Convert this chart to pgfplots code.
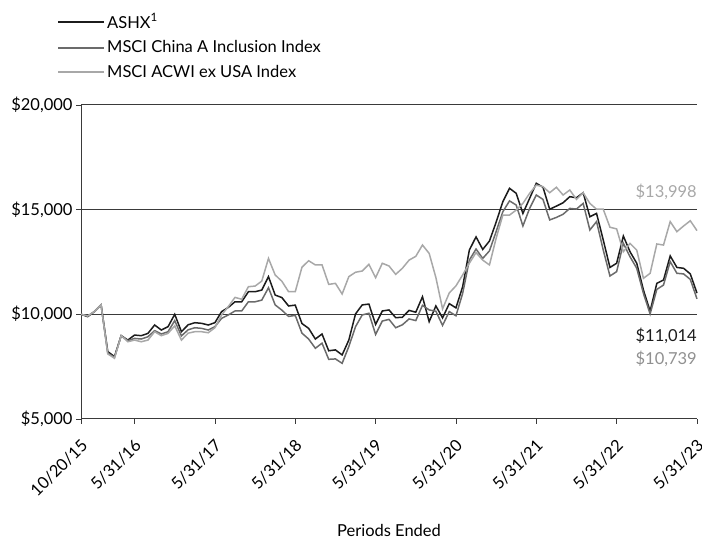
\documentclass[border=0pt]{standalone}
\usepackage{pgfplots}
\usepackage{pgfplotstable}
\pgfplotsset{compat=1.18}
\usepackage{fontspec}
\setmainfont{Lato}

\definecolor{ashx}{HTML}{1C1C1C}
\definecolor{chinaA}{HTML}{6B6B6B}
\definecolor{acwi}{HTML}{A8A8A8}
\definecolor{gridc}{HTML}{3A3A3A}

% Growth of $10,000: inception 10/20/15, then month-ends to 5/31/23
\pgfplotstableread{
i  ashx  china  acwi
0  10000 10000 10000
1  9890  9920  9920
2  10130 10130 10130
3  10450 10450 10450
4  8220  8140  8110
5  7980  7950  7900
6  8980  8980  8980
7  8770  8740  8690
8  9010  8850  8770
9  8980  8820  8690
10 9090  8930  8770
11 9490  9220  9170
12 9250  9060  8980
13 9410  9170  9090
14 10000 9700  9450
15 9170  8970  8770
16 9500  9260  9100
17 9600  9360  9170
18 9570  9330  9170
19 9490  9250  9120
20 9600  9410  9360
21 10130 9810  9970
22 10330 9970  10370
23 10600 10160 10810
24 10600 10160 10720
25 11080 10600 11320
26 11080 10600 11350
27 11160 10680 11590
28 11800 11270 12670
29 10920 10450 11880
30 10800 10200 11580
31 10400 9900  11080
32 10440 9950  11080
33 9560  9100  12250
34 9330  8820  12560
35 8820  8380  12360
36 9060  8620  12360
37 8260  7850  11430
38 8300  7870  11480
39 8060  7660  10970
40 8770  8460  11800
41 10020 9410  12010
42 10450 9970  12070
43 10490 10050 12390
44 9520  9040  11750
45 10160 9680  12440
46 10210 9760  12310
47 9840  9360  11910
48 9860  9500  12200
49 10190 9780  12590
50 10100 9700  12770
51 10840 10430 13310
52 9650  10210 12910
53 10400 10150 11760
54 9830  9470  10260
55 10510 10130 11020
56 10310 9930  11360
57 11320 11000 11880
58 13070 12590 12440
59 13700 13120 12950
60 13100 12670 12590
61 13500 13030 12360
62 14400 13950 13630
63 15380 14900 14740
64 16020 15420 14740
65 15780 15220 14980
66 14820 14220 15300
67 15540 15060 15780
68 16260 15700 16170
69 16070 15490 16100
70 15020 14510 15810
71 15170 14630 16070
72 15330 14780 15700
73 15620 15060 15940
74 15570 15030 15490
75 15810 15300 15810
76 14660 14030 15300
77 14820 14430 15020
78 13550 13070 15020
79 12240 11830 14160
80 12440 12040 14080
81 13740 13390 12990
82 12990 12750 13390
83 12440 12200 13070
84 11160 11000 11720
85 10150 10020 11960
86 11480 11190 13360
87 11640 11400 13310
88 12790 12520 14430
89 12240 11960 13950
90 12200 11930 14220
91 11930 11670 14470
92 11014 10739 13998
}\growth

\newcommand{\lbl}{\fontsize{16.5}{19}\selectfont}

\begin{document}
\begin{tikzpicture}
\path[use as bounding box] (0pt,0pt) rectangle (702pt,540pt);
\begin{axis}[
  at={(81pt,121pt)}, anchor=south west,
  scale only axis, width=616pt, height=314pt,
  xmin=0, xmax=92, ymin=5000, ymax=20000,
  scaled y ticks=false,
  axis x line*=bottom, axis y line*=left,
  axis line style={gridc, line width=1pt, -},
  xtick={0,8,20,32,44,56,68,80,92},
  xticklabels={10/20/15,5/31/16,5/31/17,5/31/18,5/31/19,5/31/20,5/31/21,5/31/22,5/31/23},
  x tick label style={xshift=6pt, yshift=-16pt, rotate=45, anchor=east, font=\lbl, text=black},
  ytick={5000,10000,15000,20000},
  yticklabels={{\$5,000},{\$10,000},{\$15,000},{\$20,000}},
  y tick label style={font=\lbl, text=black},
  ymajorgrids, grid style={gridc, line width=1pt},
  tick align=outside, major tick length=5pt,
  tick style={gridc, line width=0.8pt},
  xlabel={Periods Ended},
  xlabel style={at={(axis description cs:0.5,0)}, anchor=center, yshift=-111pt, font=\lbl},
  legend style={at={(rel axis cs:-0.039,1.298)}, anchor=north west, draw=none, fill=none,
    font=\lbl, row sep=7pt, inner sep=0pt},
  legend cell align=left,
  legend image code/.code={\draw[#1, line width=2pt] (0pt,0pt) -- (46pt,0pt);},
  clip=false,
]
\addplot[ashx, line width=1.5pt] table[x=i, y=ashx] {\growth};
\addlegendentry{ASHX\textsuperscript{1}}
\addplot[chinaA, line width=1.5pt] table[x=i, y=china] {\growth};
\addlegendentry{MSCI China A Inclusion Index}
\addplot[acwi, line width=1.5pt] table[x=i, y=acwi] {\growth};
\addlegendentry{MSCI ACWI ex USA Index}

\node[anchor=east, text=acwi, font=\lbl, inner sep=0pt] at (axis cs:92,15840) {\$13,998};
\node[anchor=east, text=ashx, font=\lbl, inner sep=0pt] at (axis cs:92,8965) {\$11,014};
\node[anchor=east, text=chinaA!75!white, font=\lbl, inner sep=0pt] at (axis cs:92,7860) {\$10,739};
\end{axis}
\end{tikzpicture}
\end{document}
